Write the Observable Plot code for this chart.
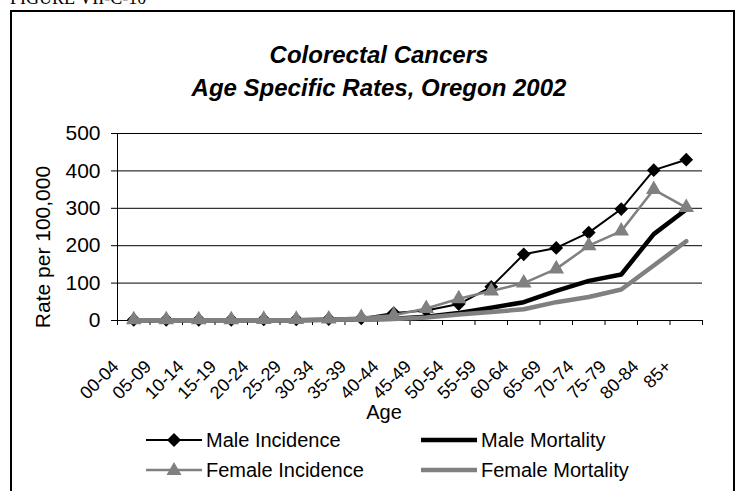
<!DOCTYPE html>
<html>
<head>
<meta charset="utf-8">
<script src="https://cdn.jsdelivr.net/npm/d3@7"></script>
<script src="https://cdn.jsdelivr.net/npm/@observablehq/plot@0.6"></script>
<style>
  body { margin: 0; background: #fff; }
  #page { position: relative; width: 737px; height: 491px; overflow: hidden; font-family: "Liberation Sans", Arial, sans-serif; color: #000; }
  #fig { position: absolute; left: 10px; top: -12px; font: 18px/20px "Liberation Serif", "Times New Roman", serif; white-space: nowrap; }
  #frame { position: absolute; left: 10px; top: 10px; width: 721px; height: 540px; border: 2px solid #000; }
  #title { position: absolute; left: 129px; width: 500px; top: 38px; text-align: center; font: italic bold 24px/33px "Liberation Sans", Arial, sans-serif; }
  #chart { position: absolute; left: 0; top: 0; }
  .lg { position: absolute; display: flex; align-items: center; font-size: 20px; white-space: nowrap; }
  .lg svg { margin-right: 4px; }
</style>
</head>
<body>
<div id="page">
  <div id="fig">FIGURE VII-C-10</div>
  <div id="frame"></div>
  <div id="title">Colorectal Cancers<br>Age Specific Rates, Oregon 2002</div>
  <div id="chart"></div>
  <div id="legend"></div>
</div>
<script>
// Age groups and rates per 100,000, Oregon 2002
const ages = ["00-04","05-09","10-14","15-19","20-24","25-29","30-34","35-39","40-44",
              "45-49","50-54","55-59","60-64","65-69","70-74","75-79","80-84","85+"];
const maleIncidence   = [2, 2, 2, 2, 3, 3, 4, 6, 20, 27, 44, 90, 177, 194, 235, 298, 402, 430];
const maleMortality   = [1, 1, 1, 1, 1, 1, 2, 3, 5, 10, 20, 34, 49, 79, 106, 123, 231, 297];
const femaleIncidence = [2, 2, 2, 2, 3, 3, 4, 8, 14, 32, 58, 79, 100, 138, 200, 239, 350, 302];
const femaleMortality = [1, 1, 1, 1, 1, 1, 2, 3, 4, 8, 16, 23, 30, 49, 63, 83, 147, 212];
const yTicks = [0, 100, 200, 300, 400, 500];

const GRAY = "#808080";
const idx = ages.map((_, i) => i);
const rows = (vals) => vals.map((v, i) => ({i, v}));
// category boundaries carry the x-axis tick marks
const bounds = d3.range(ages.length + 1).map((k) => k - 0.5);

const chart = Plot.plot({
  width: 737,
  height: 440,
  marginLeft: 117,
  marginRight: 35,
  marginTop: 133,
  marginBottom: 120,
  style: {fontFamily: "'Liberation Sans', Arial, sans-serif", fontSize: "21px", color: "#000", background: "transparent", overflow: "visible"},
  x: {type: "linear", domain: [-0.5, ages.length - 0.5], ticks: bounds, tickFormat: () => "", tickSize: 5, label: null},
  y: {domain: [0, 500], ticks: yTicks, tickSize: 6, tickPadding: 11, label: null},
  marks: [
    Plot.ruleY(yTicks.slice(1), {stroke: "#000", strokeWidth: 1}),
    Plot.ruleX([-0.5], {stroke: "#000", strokeWidth: 1}),
    Plot.ruleY([0], {stroke: "#000", strokeWidth: 1}),

    Plot.line(rows(maleIncidence), {x: "i", y: "v", stroke: "#000", strokeWidth: 2}),
    Plot.dot(rows(maleIncidence), {x: "i", y: "v", symbol: "diamond2", r: 6.2, fill: "#000", stroke: "none"}),
    Plot.line(rows(maleMortality), {x: "i", y: "v", stroke: "#000", strokeWidth: 4.5}),
    Plot.line(rows(femaleIncidence), {x: "i", y: "v", stroke: GRAY, strokeWidth: 2.5}),
    Plot.dot(rows(femaleIncidence), {x: "i", y: "v", symbol: "triangle", r: 5.8, fill: GRAY, stroke: "none"}),
    Plot.line(rows(femaleMortality), {x: "i", y: "v", stroke: GRAY, strokeWidth: 4.5}),

    Plot.text(idx, {x: (d) => d, y: () => 0, text: (d) => ages[d], rotate: -45, textAnchor: "end", dx: -18, dy: 43, fontSize: 18}),
    Plot.text(["Rate per 100,000"], {frameAnchor: "left", textAnchor: "middle", rotate: -90, dx: -74, dy: 20, fontSize: 21}),
    Plot.text(["Age"], {frameAnchor: "bottom", textAnchor: "middle", dx: -26, dy: 98, fontSize: 20})
  ]
});
document.getElementById("chart").appendChild(chart);

// legend: two rows by two columns
const legendItems = [
  {label: "Male Incidence",   color: "#000", width: 2,   symbol: "diamond",  left: 146, top: 440},
  {label: "Male Mortality",   color: "#000", width: 4.5, symbol: null,       left: 421, top: 440},
  {label: "Female Incidence", color: GRAY,   width: 2.5, symbol: "triangle", left: 146, top: 470},
  {label: "Female Mortality", color: GRAY,   width: 4.5, symbol: null,       left: 421, top: 470}
];
const legend = document.getElementById("legend");
for (const item of legendItems) {
  const div = document.createElement("div");
  div.className = "lg";
  div.style.left = item.left + "px";
  div.style.top = (item.top - 14) + "px";
  div.style.height = "28px";
  const w = 56, h = 28, cy = 14;
  let marker = "";
  if (item.symbol === "diamond") marker = `<path d="M${w/2},${cy-7}L${w/2+7},${cy}L${w/2},${cy+7}L${w/2-7},${cy}Z" fill="${item.color}"/>`;
  if (item.symbol === "triangle") marker = `<path d="M${w/2},${cy-8}L${w/2+7.5},${cy+5}L${w/2-7.5},${cy+5}Z" fill="${item.color}"/>`;
  div.innerHTML = `<svg width="${w}" height="${h}"><line x1="0" x2="${w}" y1="${cy}" y2="${cy}" stroke="${item.color}" stroke-width="${item.width}"/>${marker}</svg><span>${item.label}</span>`;
  legend.appendChild(div);
}
</script>
</body>
</html>
